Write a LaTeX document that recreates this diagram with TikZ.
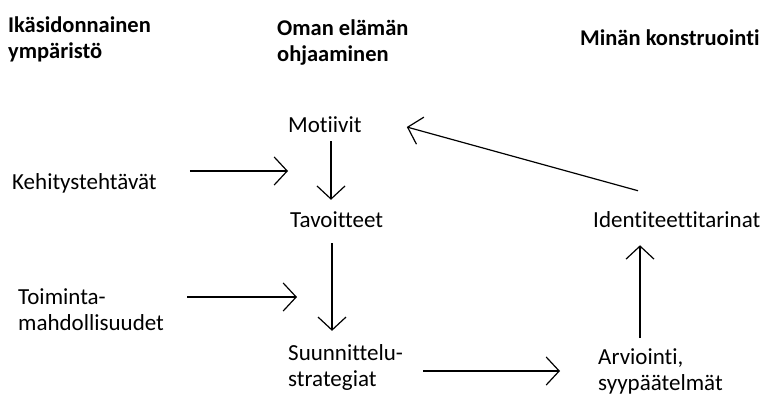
\documentclass[tikz,border=0pt]{standalone}
\usepackage{fontspec}
\setmainfont{Carlito}[Ligatures={NoCommon,NoRare,NoContextual}]
\usetikzlibrary{arrows.meta, calc}

\tikzset{
  lbl/.style = {anchor=west, inner sep=0pt, align=left, font=\fontsize{23}{26}\selectfont},
  hdr/.style = {lbl, font=\fontsize{22.5}{26}\selectfont\bfseries},
  arr/.style = {-{Straight Barb[length=13pt, width=28pt]}, line width=1.2pt}
}

\begin{document}
\begin{tikzpicture} [x=1pt, y=-1pt]
\useasboundingbox (0,0) rectangle (767,399);

% column headings
\node (ika) [hdr] at (8,39) {Ikäsidonnainen\\ympäristö};
\node (oman) [hdr] at (277,43) {Oman elämän\\ohjaaminen};
\node (minan) [hdr] at (580,38) {Minän konstruointi};

\node (motiivit) [lbl] at (288,125) {Motiivit};
\node (tavoitteet) [lbl] at (290,220) {Tavoitteet};
\node (kehitys) [lbl] at (12,183) {Kehitystehtävät};
\node (toiminta) [lbl] at (18,310) {Toiminta-\\mahdollisuudet};
\node (suunnittelu) [lbl] at (288,367) {Suunnittelu-\\strategiat};
\node (identiteetti) [lbl] at (593,220) {Identiteettitarinat};
\node (arviointi) [lbl] at (598,371) {Arviointi,\\syypäätelmät};

\coordinate (kehend) at (288,171);
\coordinate (toimend) at (297,297);

% inputs from the environment
\draw [arr, shorten <=33pt] (kehitys.east |- 0,171) -- (kehend);
\draw [arr, shorten <=23pt] (toiminta.east |- 0,297) -- (toimend);
% steering own life
\draw [arr, shorten <=8pt, shorten >=12pt] (motiivit.south -| 331,0) -- (tavoitteet.north -| 331,0);
\draw [arr, shorten <=15pt, shorten >=13pt] (tavoitteet.south -| 332,0) -- (suunnittelu.north -| 332,0);
\draw [arr, shorten <=20pt, shorten >=38pt] (suunnittelu.east |- 0,371) -- (arviointi.west |- 0,371);
% self construction
\draw [arr, shorten <=10pt, shorten >=17pt] (arviointi.north -| 640,0) -- (identiteetti.south -| 640,0);
\draw [arr] ($(identiteetti.north west)+(45,-21)$) -- ($(motiivit.east)+(45,2)$);
\end{tikzpicture}
\end{document}
